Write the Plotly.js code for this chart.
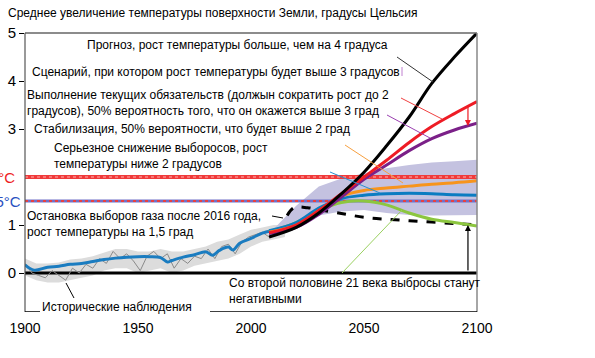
<!DOCTYPE html>
<html><head><meta charset="utf-8">
<script src="https://cdn.plot.ly/plotly-3.0.1.min.js"></script>
<style>html,body{margin:0;padding:0;background:#fff}</style>
</head><body><div id="chart" style="width:595px;height:358px"></div>
<script>
// Historical observations (smoothed)
const histYears = [1900,1904,1910,1915,1920,1925,1930,1935,1940,1945,1950,1955,1960,1963,1965,1970,1975,1980,1983,1986,1990,1992,1995,2000,2005,2009];
const histSmooth = [0.17,0.06,0.12,0.14,0.18,0.20,0.24,0.28,0.31,0.33,0.34,0.34,0.32,0.23,0.26,0.33,0.38,0.44,0.37,0.47,0.54,0.48,0.62,0.72,0.83,0.88];
// Historical observations (annual, approx.)
const annYears = [1900,1903,1906,1909,1912,1915,1918,1921,1924,1927,1930,1933,1936,1939,1942,1945,1948,1951,1954,1957,1960,1963,1966,1969,1972,1975,1978,1981,1984,1987,1990,1993,1996,1999,2002,2005,2008,2011,2014];
const annValues = [0.20,0.00,-0.05,-0.10,0.05,-0.05,-0.15,0.10,0.00,0.18,0.10,0.30,0.20,0.45,0.30,0.40,0.25,0.05,0.35,0.45,0.30,0.40,0.10,0.30,0.20,0.35,0.30,0.50,0.30,0.55,0.60,0.40,0.65,0.75,0.80,0.85,0.75,0.85,0.90];
// Historical uncertainty band
const hbYears = [1900,1905,1910,1915,1920,1925,1930,1935,1940,1945,1950,1955,1960,1965,1970,1975,1980,1985,1990,1995,2000,2005,2010,2015];
const hbUpper = [0.30,0.20,0.20,0.22,0.28,0.30,0.35,0.42,0.50,0.50,0.45,0.45,0.50,0.45,0.45,0.50,0.55,0.65,0.70,0.80,0.90,0.95,1.00,1.00];
const hbLower = [-0.05,-0.15,-0.20,-0.20,-0.15,-0.10,-0.05,0.05,0.10,0.10,0.00,0.05,0.10,0.00,0.05,0.15,0.20,0.25,0.30,0.40,0.55,0.65,0.70,0.75];
// Projections
const projYears = [2008,2020,2030,2040,2050,2060,2070,2080,2090,2100];
const noPolicy   = [0.75,0.95,1.25,1.65,2.10,2.65,3.25,3.95,4.50,5.00];
const currentCommit = [0.84,1.00,1.30,1.65,2.00,2.35,2.72,3.05,3.32,3.57];
const above3     = [0.82,0.95,1.22,1.58,1.95,2.25,2.55,2.80,2.98,3.12];
const stabil2    = [0.85,1.00,1.30,1.60,1.72,1.77,1.81,1.85,1.88,1.92];
const below2     = [0.88,1.05,1.35,1.55,1.62,1.65,1.66,1.65,1.63,1.62];
const negative   = [0.86,1.05,1.30,1.47,1.50,1.42,1.25,1.12,1.05,0.98];
const inertYears = [2016,2019,2025,2030,2040,2050,2060,2070,2080,2090,2098];
const inertia    = [1.20,1.36,1.36,1.32,1.24,1.16,1.12,1.09,1.06,1.03,1.01];
// Projection uncertainty band
const pbYears = [2008,2020,2030,2040,2050,2060,2070,2080,2090,2100];
const pbUpper = [0.82,1.40,1.80,1.97,2.08,2.18,2.25,2.30,2.33,2.36];
const pbLower = [0.72,0.92,1.20,1.28,1.31,1.25,1.21,1.20,1.20,1.21];
// Axis ticks
const xTicks = [1900,1950,2000,2050,2100];
const yTicks = [0,1,3,4,5];

const X = px => 1900 + (px - 25) / 2.26;
const Y = py => (273 - py) / 48;

const traces = [];
traces.push({x: hbYears.concat(hbYears.slice().reverse()), y: hbUpper.concat(hbLower.slice().reverse()),
  fill:'toself', fillcolor:'#dcdcdc', line:{width:0}, mode:'lines', hoverinfo:'skip'});
traces.push({x: pbYears.concat(pbYears.slice().reverse()), y: pbUpper.concat(pbLower.slice().reverse()),
  fill:'toself', fillcolor:'#c4c2e0', line:{width:0}, mode:'lines', hoverinfo:'skip'});
traces.push({x:[1900,2100], y:[0,0], mode:'lines', line:{color:'#000', width:3}});
traces.push({x:[1900,2100], y:[2,2], mode:'lines', line:{color:'#f03a3a', width:4}});
traces.push({x:[1900,2100], y:[2,2], mode:'lines', line:{color:'#ffb0b0', width:1.2, dash:'dot'}});
traces.push({x:[1900,2100], y:[1.5,1.5], mode:'lines', line:{color:'#7070c8', width:3}});
traces.push({x:[1900,2100], y:[1.5,1.5], mode:'lines', line:{color:'#e84040', width:2, dash:'dot'}});
traces.push({x: annYears, y: annValues, mode:'lines', line:{color:'#8a8a8a', width:1}});
traces.push({x: histYears, y: histSmooth, mode:'lines', line:{color:'#d89a40', width:1, shape:'spline'}});
traces.push({x: histYears, y: histSmooth, mode:'lines', line:{color:'#1a7cc0', width:3, shape:'spline'}});
traces.push({x: inertYears, y: inertia, mode:'lines', line:{color:'#000', width:3, dash:'dash', shape:'spline'}});
traces.push({x: projYears, y: negative, mode:'lines', line:{color:'#8cc63f', width:3, shape:'spline'}});
traces.push({x: projYears, y: below2, mode:'lines', line:{color:'#0b7cc1', width:3, shape:'spline'}});
traces.push({x: projYears, y: stabil2, mode:'lines', line:{color:'#f7941d', width:3, shape:'spline'}});
traces.push({x: projYears, y: above3, mode:'lines', line:{color:'#7b2088', width:3, shape:'spline'}});
traces.push({x: projYears, y: currentCommit, mode:'lines', line:{color:'#ee1c25', width:3, shape:'spline'}});
traces.push({x: projYears, y: noPolicy, mode:'lines', line:{color:'#000', width:3, shape:'spline'}});

const seg = (x0,y0,x1,y1,color,w) => ({type:'line', xref:'x', yref:'y', x0:X(x0), y0:Y(y0), x1:X(x1), y1:Y(y1), line:{color:color, width:w||1}});
const shapes = [
  {type:'line', xref:'paper', yref:'paper', x0:0, x1:1, y0:1, y1:1, line:{color:'#666', width:1.5}},
  {type:'line', xref:'paper', yref:'paper', x0:1, x1:1, y0:0, y1:1, line:{color:'#888', width:1.5}},
  {type:'line', xref:'paper', yref:'paper', x0:0, x1:0, y0:0, y1:1, line:{color:'#555', width:1.2}},
  seg(25,312,40,312,'#000',1.5),
  seg(210,312,477,312,'#000',1.5),
  seg(397,57,433,82,'#333',1),
  seg(401,98,442,119,'#f04040',1),
  seg(387,115,430,138,'#9a40b0',1),
  seg(345,145,403,183,'#f7a040',1),
  seg(330,172,380,193,'#2a90d0',1),
  seg(342,273,402,210,'#9ad060',1),
  seg(272,216,283,218,'#000',1),
  seg(66,283,74,298,'#000',1),
  seg(402,67,402,76,'#c080d0',1),
  seg(481,110,481,119,'#f7a040',1)
];

const sans = 'Liberation Sans';
const sf = {family:sans, size:12, color:'#000'};
const ann = (px,py,text,anchor) => ({xref:'x', yref:'y', x:X(px), y:Y(py), text:text, showarrow:false, xanchor:anchor||'left', yanchor:'middle', align:'left', font:sf});
const annotations = [
  {xref:'paper', yref:'paper', x:(6-25)/452, y:(312-13)/279, xanchor:'left', yanchor:'middle', showarrow:false,
   text:'Среднее увеличение температуры поверхности Земли, градусы Цельсия', font:{family:sans, size:12, color:'#000'}},
  ann(85,45,'Прогноз, рост температуры больше, чем на 4 градуса'),
  ann(30,72,'Сценарий, при котором рост температуры будет выше 3 градусов'),
  ann(25,103,'Выполнение текущих обязательств (должын сократить рост до 2<br>градусов), 50% вероятность того, что он окажется выше 3 град'),
  ann(32,129,'Стабилизация, 50% вероятности, что будет выше 2 град'),
  ann(52,156,'Серьезное снижение выборосов, рост<br>температуры ниже 2 градусов'),
  ann(25,224,'Остановка выборов газа после 2016 года,<br>рост температуры на 1,5 град'),
  ann(40,307,'Исторические наблюдения'),
  ann(227,291,'Со второй половине 21 века выбросы станут<br>негативными'),
  ann(480,106,'Влияние взятых на<br>себя обязательств'),
  ann(481,252,'Геофизическая<br>инерция'),
  {xref:'paper', yref:'y', x:(17-25)/452, y:2, xanchor:'right', yanchor:'middle', showarrow:false, text:'2°C',
   font:{family:sans, size:15, color:'#ee1c25'}},
  {xref:'paper', yref:'y', x:(23-25)/452, y:1.5, xanchor:'right', yanchor:'middle', showarrow:false, text:'1.5°C',
   font:{family:sans, size:15, color:'#2a50c0'}},
  {xref:'x', yref:'y', axref:'x', ayref:'y', x:2096, y:3.06, ax:2096, ay:3.52, text:'', showarrow:true,
   arrowhead:2, arrowsize:1, arrowwidth:1.2, arrowcolor:'#ee1c25'},
  {xref:'x', yref:'y', axref:'x', ayref:'y', x:2096, y:1.0, ax:2096, ay:0.02, text:'', showarrow:true,
   arrowhead:2, arrowsize:1, arrowwidth:1.2, arrowcolor:'#000'}
];

const layout = {
  width:595, height:358,
  margin:{l:25, r:118, t:33, b:46},
  paper_bgcolor:'#fff', plot_bgcolor:'#fff',
  showlegend:false,
  font:{family:sans},
  xaxis:{range:[1900,2100], tickvals:xTicks, ticktext:xTicks.map(String), showgrid:false, zeroline:false, showline:false,
    ticks:'', ticklabelstandoff:6, tickfont:{family:sans, size:14, color:'#000'}},
  yaxis:{range:[-0.8125,5], tickvals:yTicks, ticktext:yTicks.map(String), showgrid:false, zeroline:false, showline:false,
    ticks:'outside', ticklen:5, tickcolor:'#000', tickwidth:1,
    tickfont:{family:sans, size:15, color:'#000'}},
  shapes:shapes, annotations:annotations
};
Plotly.newPlot('chart', traces, layout, {staticPlot:true});
</script></body></html>
